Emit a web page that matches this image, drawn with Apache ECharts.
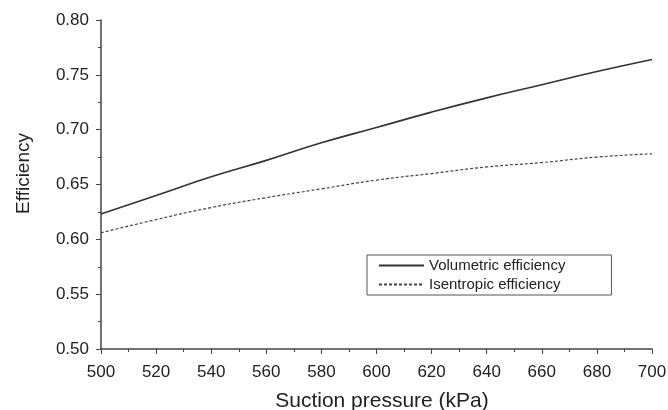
<!DOCTYPE html>
<html>
<head>
<meta charset="utf-8">
<script src="https://cdn.jsdelivr.net/npm/echarts@6/dist/echarts.min.js"></script>
<style>
  html, body { margin: 0; padding: 0; background: #fff; }
  #chart { width: 668px; height: 410px; }
</style>
</head>
<body>
<div id="chart"></div>
<script>
// Suction pressure (kPa)
const pressure = [500, 520, 540, 560, 580, 600, 620, 640, 660, 680, 700];
// Efficiency curves
const volumetric = [0.623, 0.640, 0.657, 0.672, 0.688, 0.702, 0.716, 0.729, 0.741, 0.753, 0.764];
const isentropic = [0.606, 0.618, 0.629, 0.638, 0.646, 0.654, 0.660, 0.666, 0.670, 0.675, 0.678];
const seriesNames = ['Volumetric efficiency', 'Isentropic efficiency'];
const xTitle = 'Suction pressure (kPa)';
const yTitle = 'Efficiency';

const pairs = (ys) => pressure.map((x, i) => [x, ys[i]]);
const textColor = '#222';
const axisColor = '#444';
const fontFamily = 'Liberation Sans, Arial, sans-serif';

const chart = echarts.init(document.getElementById('chart'), null, { renderer: 'canvas' });
chart.setOption({
  animation: false,
  backgroundColor: '#fff',
  textStyle: { fontFamily: fontFamily },
  grid: { left: 101, right: 16, top: 20, bottom: 61, containLabel: false, outerBoundsMode: 'none' },
  legend: {
    data: seriesNames,
    orient: 'vertical',
    left: 367,
    top: 255,
    itemWidth: 45,
    itemHeight: 14,
    itemGap: 4,
    padding: [3, 46, 3, 11],
    borderColor: '#555',
    borderWidth: 1,
    itemStyle: { color: 'transparent', borderWidth: 0, opacity: 0 },
    textStyle: { color: textColor, fontSize: 15, fontFamily: fontFamily }
  },
  // rotated y-axis title
  graphic: [{
    type: 'text',
    left: 14,
    top: 133,
    rotation: Math.PI / 2,
    style: {
      text: yTitle,
      fill: textColor,
      font: '19px ' + fontFamily
    }
  }],
  xAxis: {
    type: 'value',
    min: 500,
    max: 700,
    interval: 20,
    name: xTitle,
    nameLocation: 'middle',
    nameGap: 42,
    nameTextStyle: { color: textColor, fontSize: 21, padding: [0, 0, 0, 11] },
    axisLine: { lineStyle: { color: axisColor, width: 1.5 } },
    axisTick: { show: true, inside: false, length: 5, lineStyle: { color: axisColor } },
    minorTick: { show: true, splitNumber: 2, length: 3, lineStyle: { color: axisColor } },
    axisLabel: { color: textColor, fontSize: 17, margin: 15 },
    splitLine: { show: false }
  },
  yAxis: {
    type: 'value',
    min: 0.5,
    max: 0.8,
    interval: 0.05,
    axisLine: { show: true, lineStyle: { color: axisColor, width: 1.5 } },
    axisTick: { show: true, inside: false, length: 5, lineStyle: { color: axisColor } },
    minorTick: { show: true, splitNumber: 2, length: 3, lineStyle: { color: axisColor } },
    axisLabel: {
      color: textColor, fontSize: 17, margin: 12,
      formatter: (v) => v.toFixed(2)
    },
    splitLine: { show: false }
  },
  series: [
    {
      name: seriesNames[0],
      type: 'line',
      data: pairs(volumetric),
      smooth: true,
      symbol: 'none',
      lineStyle: { color: '#333', width: 1.6, type: 'solid' },
      itemStyle: { color: '#333' }
    },
    {
      name: seriesNames[1],
      type: 'line',
      data: pairs(isentropic),
      smooth: true,
      symbol: 'none',
      lineStyle: { color: '#444', width: 1.2, type: [3, 2] },
      itemStyle: { color: '#444' }
    }
  ]
});
</script>
</body>
</html>
